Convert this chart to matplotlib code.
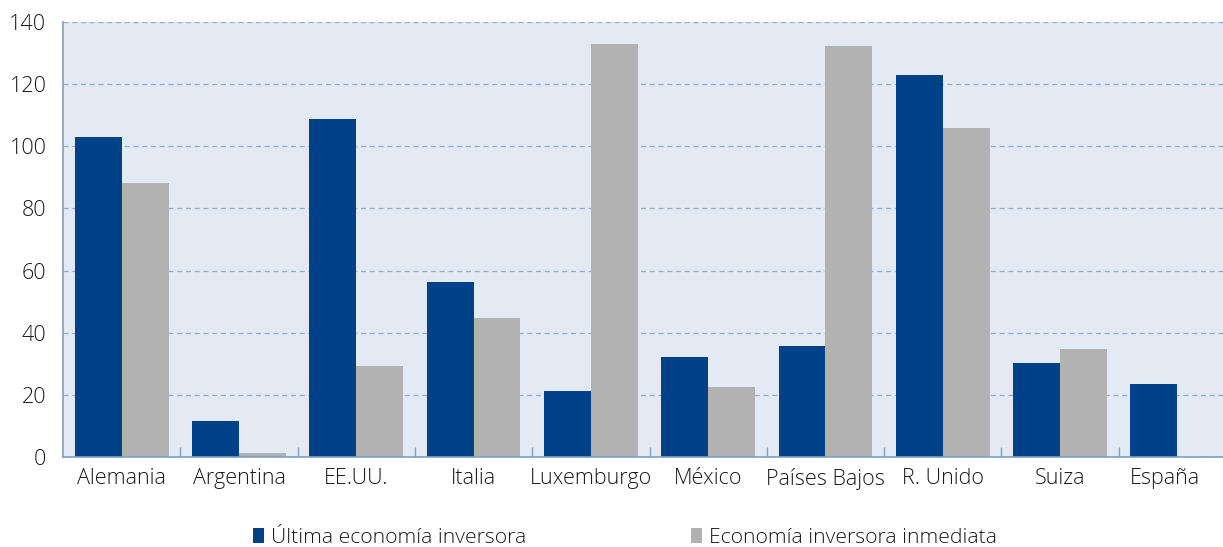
import matplotlib
matplotlib.use("Agg")
import matplotlib.pyplot as plt
import matplotlib.transforms as mtransforms
import numpy as np
from matplotlib.patches import Patch

plt.rcParams['font.family'] = ['Open Sans', 'DejaVu Sans']
plt.rcParams['font.weight'] = 'light'

categories = ["Alemania", "Argentina", "EE.UU.", "Italia", "Luxemburgo", "México",
              "Países Bajos", "R. Unido", "Suiza", "España"]
ultima = [103.0, 11.6, 108.8, 56.3, 21.2, 32.2, 35.7, 123.0, 30.3, 23.5]
inmediata = [88.2, 1.3, 29.3, 44.7, 132.9, 22.5, 132.3, 105.9, 34.8, 0.0]
yticks = [0, 20, 40, 60, 80, 100, 120, 140]
series_labels = ["Última economía inversora", "Economía inversora inmediata"]

BLUE = "#00428A"
GRAY = "#B2B2B2"
BG = "#E3EAF3"
GRID = "#8FAAD3"
SPINE = "#7F9FC8"
TXT = "#1a1a1a"

W, H = 1223, 547
fig = plt.figure(figsize=(W / 100, H / 100), dpi=100)
left, right, top, bottom = 63, 1236, 22, 457
ax = fig.add_axes([left / W, 1 - bottom / H, (right - left) / W, (bottom - top) / H])
ax.set_facecolor(BG)

x = np.arange(len(categories))
bw = 0.4
ax.bar(x - bw / 2, ultima, width=bw, color=BLUE, zorder=3)
ax.bar(x + bw / 2, inmediata, width=bw, color=GRAY, zorder=3)

ax.set_xlim(-0.5, len(categories) - 0.5)
ax.set_ylim(0, 140)
ax.set_yticks(yticks)
ax.set_yticklabels([str(v) for v in yticks], fontsize=15.5, color=TXT)
ax.yaxis.grid(True, linestyle=(0, (4, 3)), color=GRID, linewidth=0.9, zorder=1)
ax.tick_params(axis='y', length=0, pad=12)

ax.set_xticks(x)
ax.set_xticklabels(categories, fontsize=15.5, color=TXT)
ax.tick_params(axis='x', length=0, pad=8)
ax.set_xticks(np.arange(0.5, len(categories) - 0.5, 1), minor=True)
ax.tick_params(axis='x', which='minor', direction='in', length=7, color=SPINE, width=1)

# last label nudged left so it fits in the figure
lbl = ax.get_xticklabels()[-1]
lbl.set_transform(lbl.get_transform() + mtransforms.ScaledTranslation(-12 / 100, 0, fig.dpi_scale_trans))

for s in ["top", "right"]:
    ax.spines[s].set_visible(False)
for s in ["left", "bottom"]:
    ax.spines[s].set_color(SPINE)
    ax.spines[s].set_linewidth(1.2)
    ax.spines[s].set_zorder(4)

handles = [Patch(facecolor=BLUE), Patch(facecolor=GRAY)]
leg = fig.legend(handles, series_labels, loc="center", bbox_to_anchor=(625 / W, 1 - 538 / H),
                 ncol=2, frameon=False, fontsize=15.2, handlelength=0.5, handleheight=0.7,
                 handletextpad=0.35, columnspacing=7.8, borderpad=0, borderaxespad=0)
for t in leg.get_texts():
    t.set_color(TXT)

fig.savefig("out.png", dpi=100, facecolor="white")
